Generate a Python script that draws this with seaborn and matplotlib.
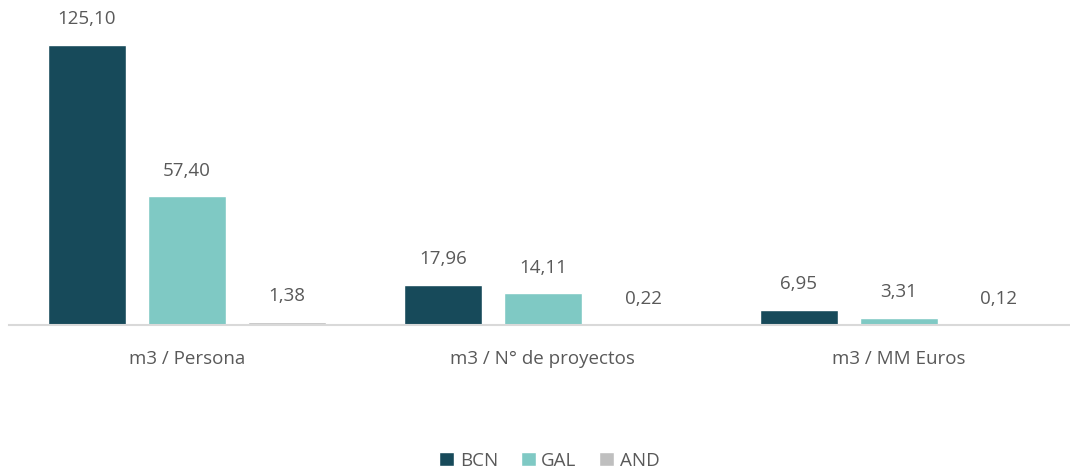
import pandas as pd
import matplotlib.pyplot as plt
import seaborn as sns

# Chart values
categories = ['m3 / Persona', 'm3 / N° de proyectos', 'm3 / MM Euros']
series = ['BCN', 'GAL', 'AND']
bcn = [125.10, 17.96, 6.95]
gal = [57.40, 14.11, 3.31]
and_ = [1.38, 0.22, 0.12]
colors = ['#174A5A', '#7FC9C4', '#BFBFBF']

df = pd.DataFrame({
    'categoria': categories * 3,
    'region': [s for s in series for _ in categories],
    'valor': bcn + gal + and_,
})

sns.set_theme(style='white')
plt.rcParams['font.family'] = ['Open Sans', 'DejaVu Sans']
text_color = '#595959'

fig = plt.figure(figsize=(10.7, 4.76), dpi=100)
# axes runs slightly past the right edge, like the original
ax = fig.add_axes([0.0084, 0.317, 0.998, 0.662])

sns.barplot(data=df, x='categoria', y='valor', hue='region', order=categories,
            hue_order=series, palette=colors, width=0.843, gap=0.22,
            saturation=1, ax=ax, legend=True)

# Labels on top of the bars (comma decimal)
for cont in ax.containers:
    ax.bar_label(cont, labels=[f'{v:.2f}'.replace('.', ',') for v in cont.datavalues],
                 padding=12, fontsize=13.5, color=text_color)

ax.set_ylim(0, 140.6)
ax.set_xlabel('')
ax.set_ylabel('')
ax.set_yticks([])
ax.tick_params(axis='x', length=0, pad=18, labelsize=13.5, labelcolor=text_color)
for side in ['top', 'right', 'left']:
    ax.spines[side].set_visible(False)
ax.spines['bottom'].set_color('#D9D9D9')
ax.spines['bottom'].set_linewidth(1.5)

ax.legend(loc='center', bbox_to_anchor=(0.506, -0.43), ncol=3, frameon=False,
          fontsize=13.5, labelcolor=text_color, handlelength=0.8, handleheight=0.8,
          handletextpad=0.3, columnspacing=1.2)

plt.savefig('out.png', dpi=100)
plt.close()
